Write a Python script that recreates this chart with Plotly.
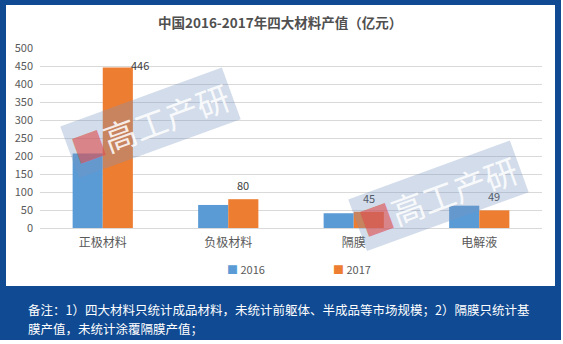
import plotly.graph_objects as go

categories = ["正极材料", "负极材料", "隔膜", "电解液"]
values_2016 = [207, 64, 41, 62]
values_2017 = [446, 80, 45, 49]
series_names = ["2016", "2017"]
colors = ["#5B9BD5", "#ED7D31"]
title_text = "中国2016-2017年四大材料产值（亿元）"
note_line1 = "备注：1）四大材料只统计成品材料，未统计前躯体、半成品等市场规模；2）隔膜只统计基"
note_line2 = "膜产值，未统计涂覆隔膜产值；"
watermark = "高工产研"

W, H = 563, 344
PL, PR, PT, PB = 40, 542, 48, 228  # plot area in pixels
FONT = "Noto Sans CJK SC, sans-serif"
FRAME = "#0F4A92"


def px_x(p):
    return (p - PL) / (PR - PL)


def px_y(p):
    return (PB - p) / (PB - PT)


fig = go.Figure()
fig.add_trace(go.Bar(x=categories, y=values_2016, name=series_names[0],
                     marker=dict(color=colors[0], line=dict(width=0))))
fig.add_trace(go.Bar(x=categories, y=values_2017, name=series_names[1],
                     marker=dict(color=colors[1], line=dict(width=0))))

shapes = [
    dict(type="rect", xref="paper", yref="paper", layer="below",
         x0=px_x(0), x1=px_x(561), y0=px_y(340), y1=px_y(0),
         fillcolor=FRAME, line=dict(width=0)),
    dict(type="rect", xref="paper", yref="paper", layer="below",
         x0=px_x(6), x1=px_x(555), y0=px_y(286), y1=px_y(5),
         fillcolor="white", line=dict(width=0)),
]

annotations = []
# title
annotations.append(dict(xref="paper", yref="paper", x=px_x(280), y=px_y(22),
                        text="<b>" + title_text + "</b>", showarrow=False,
                        xanchor="center", yanchor="middle",
                        font=dict(family=FONT, size=13.5, color="#505050")))
# data labels for 2017
for i, (c, v) in enumerate(zip(categories, values_2017)):
    if i == 0:
        xs, ys = 37, 2
    else:
        xs, ys = 15, 14
    annotations.append(dict(xref="x", yref="y", x=c, y=v, text=str(v),
                            showarrow=False, xshift=xs, yshift=ys,
                            xanchor="center", yanchor="middle",
                            font=dict(family=FONT, size=11, color="#404040")))
# legend (manual)
for name, col, xp in zip(series_names, colors, [227, 333]):
    annotations.append(dict(xref="paper", yref="paper", x=px_x(xp - 2), y=px_y(269),
                            text='<span style="color:%s">■</span> %s' % (col, name),
                            showarrow=False, xanchor="left", yanchor="middle",
                            font=dict(family=FONT, size=11, color="#595959")))
# watermarks
for cx, cy in [(150, 123), (438, 196)]:
    annotations.append(dict(xref="paper", yref="paper", x=px_x(cx), y=px_y(cy),
                            text='<span style="color:rgba(220,80,80,0.75)">■</span>' + watermark,
                            showarrow=False, xanchor="center", yanchor="middle",
                            textangle=-20, bgcolor="rgba(120,150,190,0.33)",
                            borderpad=3,
                            font=dict(family=FONT, size=33, color="rgba(255,255,255,0.85)")))
# notes
for line, yp in [(note_line1, 309), (note_line2, 328)]:
    annotations.append(dict(xref="paper", yref="paper", x=px_x(26), y=px_y(yp),
                            text=line, showarrow=False,
                            xanchor="left", yanchor="middle", align="left",
                            font=dict(family=FONT, size=12.5, color="white")))

fig.update_layout(
    width=W, height=H,
    margin=dict(l=PL, r=W - PR, t=PT, b=H - PB, pad=0),
    paper_bgcolor="white", plot_bgcolor="rgba(0,0,0,0)",
    barmode="group", bargap=0.52, bargroupgap=0,
    showlegend=False,
    shapes=shapes, annotations=annotations,
    font=dict(family=FONT, color="#595959"),
)
fig.update_xaxes(showgrid=False, showline=False, ticks="", zeroline=False,
                 tickfont=dict(family=FONT, size=12, color="#595959"),
                 ticklabelstandoff=6)
fig.update_yaxes(range=[0, 500], dtick=50, showgrid=True, gridcolor="#D9D9D9",
                 gridwidth=1, zeroline=True, zerolinecolor="#D9D9D9", zerolinewidth=1,
                 showline=False, ticks="", ticklabelstandoff=6,
                 tickfont=dict(family=FONT, size=11, color="#595959"))

fig.write_html("out.html")
